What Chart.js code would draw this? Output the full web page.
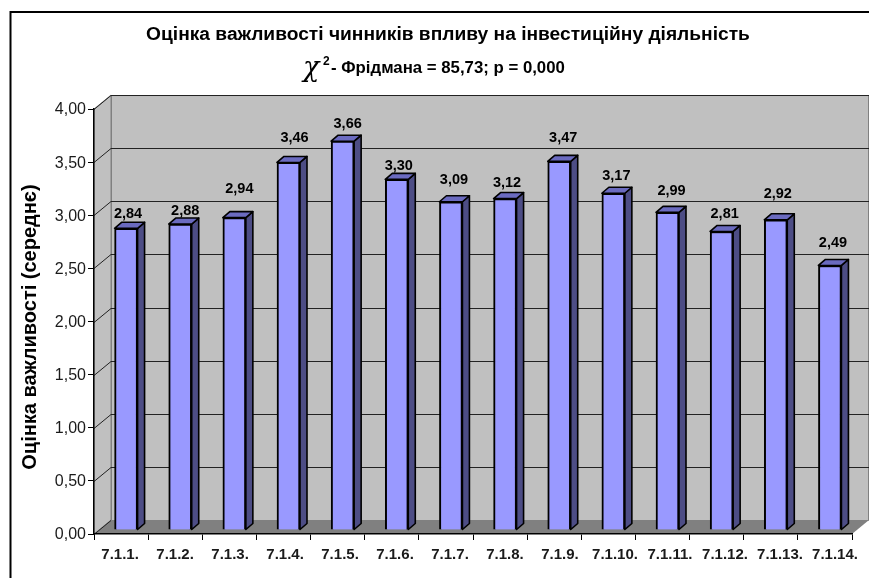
<!DOCTYPE html>
<html>
<head>
<meta charset="utf-8">
<style>html,body{margin:0;padding:0;background:#fff}canvas{display:block}</style>
<script src="https://cdn.jsdelivr.net/npm/chart.js@4/dist/chart.umd.min.js"></script>
</head>
<body>
<canvas id="c" width="869" height="578"></canvas>
<script>
const categories = ['7.1.1.','7.1.2.','7.1.3.','7.1.4.','7.1.5.','7.1.6.','7.1.7.','7.1.8.','7.1.9.','7.1.10.','7.1.11.','7.1.12.','7.1.13.','7.1.14.'];
const values = [2.84,2.88,2.94,3.46,3.66,3.30,3.09,3.12,3.47,3.17,2.99,2.81,2.92,2.49];
const titleText = 'Оцінка важливості чинників впливу на інвестиційну діяльність';
const statSymbol = 'χ';
const statPower = '2';
const statText = '- Фрідмана = 85,73; p = 0,000';
const yTitle = 'Оцінка важливості (середнє)  ';
const FONT = '"Liberation Sans", Arial, sans-serif';
const fmt = v => v.toFixed(2).replace('.', ',');

const chart3d = {
  id: 'chart3d',
  beforeDraw(chart, args, o) {
    const {ctx, chartArea: a, scales: {x, y}} = chart;
    const dx = o.wallX, dy = o.wallY;
    // tick label drift seen in the original
    x.getLabelItems().forEach((it, i) => { it.options.translation[0] += o.xLabelStart + i * o.xLabelDrift; });
    y.getLabelItems().forEach(it => { it.options.translation[1] += 1; });
    ctx.save();
    ctx.fillStyle = '#fff';
    ctx.fillRect(0, 0, chart.width, chart.height);
    // walls
    ctx.fillStyle = '#c0c0c0';
    ctx.strokeStyle = '#808080';
    ctx.lineWidth = 1;
    ctx.beginPath();
    ctx.rect(a.left + dx + .5, a.top - dy + .5, a.right - a.left - 1, a.bottom - a.top);
    ctx.fill(); ctx.stroke();
    ctx.beginPath();
    ctx.moveTo(a.left, a.bottom); ctx.lineTo(a.left + dx, a.bottom - dy);
    ctx.lineTo(a.left + dx, a.top - dy); ctx.lineTo(a.left, a.top); ctx.closePath();
    ctx.fill(); ctx.stroke();
    // floor
    ctx.fillStyle = '#808080';
    ctx.beginPath();
    ctx.moveTo(a.left, a.bottom); ctx.lineTo(a.right, a.bottom);
    ctx.lineTo(a.right + dx, a.bottom - dy); ctx.lineTo(a.left + dx, a.bottom - dy);
    ctx.closePath(); ctx.fill();
    // grid on walls
    ctx.strokeStyle = '#222';
    y.ticks.forEach((t, i) => {
      const p = Math.round(y.getPixelForTick(i)) + .5;
      ctx.beginPath();
      ctx.moveTo(a.left, p); ctx.lineTo(a.left + dx, p - dy);
      if (t.value > 0) ctx.lineTo(a.right + dx, p - dy);
      ctx.stroke();
    });
    // frame
    ctx.strokeStyle = '#000';
    ctx.lineWidth = 2;
    ctx.beginPath();
    ctx.moveTo(chart.width, o.frameTop); ctx.lineTo(o.frameLeft, o.frameTop); ctx.lineTo(o.frameLeft, chart.height);
    ctx.stroke();
    // second title line with the chi symbol
    const s = o.stat;
    ctx.fillStyle = '#000';
    ctx.textAlign = 'left';
    ctx.textBaseline = 'alphabetic';
    ctx.font = 'italic 27px "DejaVu Serif", serif';
    ctx.fillText(statSymbol, s.x - 1, s.y + 3);
    ctx.font = 'bold 12px ' + FONT;
    ctx.fillText(statPower, s.x + 19, s.y - 8);
    ctx.font = 'bold 16.8px ' + FONT;
    ctx.fillText(statText, s.x + 27, s.y);
    ctx.restore();
  },
  beforeDatasetsDraw(chart, args, o) {
    chart.ctx.save();
    chart.ctx.translate(o.barShiftX, o.barShiftY);
  },
  afterDatasetsDraw(chart, args, o) {
    const ctx = chart.ctx, meta = chart.getDatasetMeta(0);
    const d = o.barDepthX, e = o.barDepthY;
    ctx.lineWidth = 1.6;
    ctx.strokeStyle = '#000';
    ctx.lineJoin = 'round';
    meta.data.forEach((b, i) => {
      const l = b.x - b.width / 2, r = b.x + b.width / 2, t = b.y, bt = b.base;
      ctx.fillStyle = o.sideColor;
      ctx.beginPath();
      ctx.moveTo(r, t); ctx.lineTo(r + d, t - e); ctx.lineTo(r + d, bt - e); ctx.lineTo(r, bt); ctx.closePath();
      ctx.fill(); ctx.stroke();
      ctx.fillStyle = o.topColor;
      ctx.beginPath();
      ctx.moveTo(l, t); ctx.lineTo(l + d, t - e); ctx.lineTo(r + d, t - e); ctx.lineTo(r, t); ctx.closePath();
      ctx.fill(); ctx.stroke();
    });
    ctx.fillStyle = '#000';
    ctx.font = 'bold 14.5px ' + FONT;
    ctx.textAlign = 'center';
    ctx.textBaseline = 'middle';
    meta.data.forEach((b, i) => {
      ctx.fillText(fmt(values[i]), b.x + o.labelNudgeX[i], b.y - o.labelLift[i]);
    });
    ctx.restore();
  }
};

new Chart(document.getElementById('c'), {
  type: 'bar',
  data: {
    labels: categories,
    datasets: [{
      data: values,
      backgroundColor: '#9999ff',
      borderColor: '#000',
      borderWidth: 2,
      barThickness: 23,
      clip: false
    }]
  },
  plugins: [chart3d],
  options: {
    responsive: false,
    animation: false,
    layout: {padding: {left: 44, right: 17, top: 17, bottom: 0}},
    plugins: {
      legend: {display: false},
      tooltip: {enabled: false},
      title: {
        display: true,
        text: titleText,
        color: '#000',
        font: {family: FONT, size: 19.2, weight: 'bold', lineHeight: 1.8},
        padding: {top: 0, bottom: 57.5}
      },
      chart3d: {
        wallX: 17, wallY: 14,
        barShiftX: 5, barShiftY: -4,
        barDepthX: 7, barDepthY: 6,
        sideColor: '#4d4d85', topColor: '#6b6bc0',
        frameLeft: 10.5, frameTop: 12,
        xLabelStart: -1, xLabelDrift: 0.85,
        stat: {x: 304, y: 73},
        labelNudgeX: [2,5,5,6,5,2,3,2,4,3,4,3,2,3],
        labelLift: [14,13,29,24,17,13,22,16,23,17,21,17,26,22]
      }
    },
    scales: {
      x: {
        offset: true,
        afterFit(s) { s.height = 44; },
        grid: {display: true, drawOnChartArea: false, drawTicks: true, tickLength: 6, tickColor: '#000', offset: true},
        border: {display: true, color: '#000', width: 1.5},
        ticks: {color: '#1a1a1a', autoSkip: false, maxRotation: 0, padding: 6, font: {family: FONT, size: 15, weight: 'bold'}}
      },
      y: {
        min: 0, max: 4,
        afterFit(s) { s.width = 50; },
        grid: {display: true, drawOnChartArea: false, drawTicks: true, tickLength: 6, tickColor: '#000'},
        border: {display: true, color: '#000', width: 1.5},
        ticks: {stepSize: 0.5, color: '#1a1a1a', padding: 2, callback: v => fmt(v), font: {family: FONT, size: 16}},
        title: {
          display: true,
          text: yTitle,
          color: '#000',
          font: {family: FONT, size: 20, weight: 'bold'},
          padding: {top: -26, bottom: 0}
        }
      }
    }
  }
});
</script>
</body>
</html>
